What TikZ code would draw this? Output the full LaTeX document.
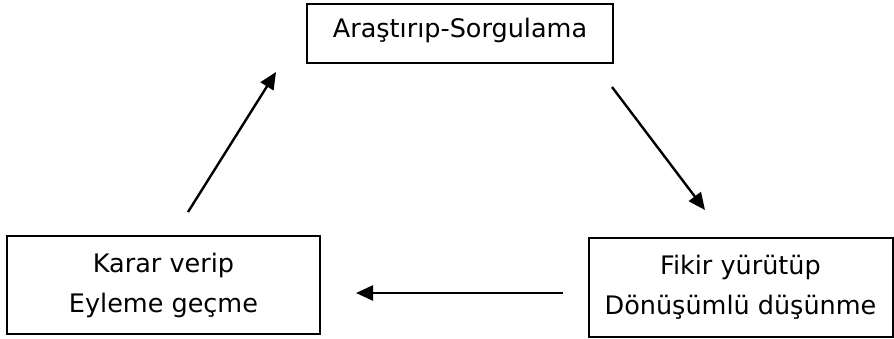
\documentclass[tikz,border=0pt]{standalone}
\usepackage{fontspec}
\setmainfont{DejaVu Sans}
\usetikzlibrary{arrows.meta}
\begin{document}
\begin{tikzpicture}[x=1pt,y=-1pt,
  stagebox/.style={draw=black, line width=2pt, inner sep=0pt, align=center,
    font=\fontsize{25.5}{40}\selectfont},
  flow/.style={line width=2.4pt, -{Triangle[length=17pt,width=15pt]}}]
\useasboundingbox (0,0) rectangle (894,338);
\node[stagebox, minimum width=306pt, minimum height=59pt, text height=16pt, text depth=9pt] (top) at (460,33.5) {Araştırıp-Sorgulama};
\node[stagebox, minimum width=313pt, minimum height=98pt] (left) at (163.5,285) {Karar verip\\Eyleme geçme};
\node[stagebox, minimum width=304pt, minimum height=99pt] (right) at (740.5,287.5) {Fikir yürütüp\\Dönüşümlü düşünme};
\coordinate (a1) at (188,212);
\coordinate (a2) at (276,72);
\coordinate (b1) at (612,87);
\coordinate (b2) at (705,210);
\coordinate (c1) at (563,293);
\coordinate (c2) at (356,293);
\draw[flow] (a1) -- (a2);
\draw[flow] (b1) -- (b2);
\draw[flow] (c1) -- (c2);
\end{tikzpicture}
\end{document}
